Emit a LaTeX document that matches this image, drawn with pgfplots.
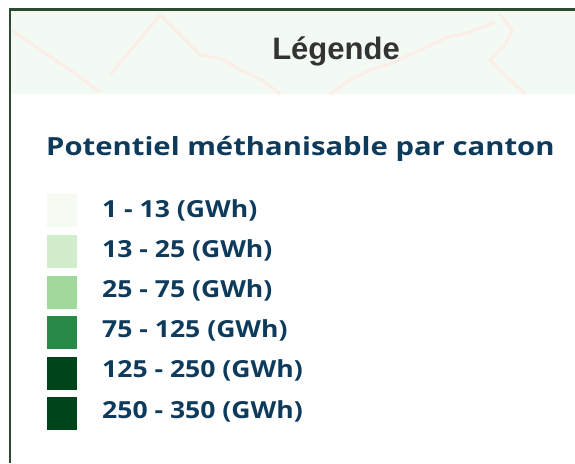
\documentclass[border=0pt]{standalone}
\usepackage{pgfplots}
\pgfplotsset{compat=1.18}
\usepackage{fontspec}
\setmainfont{Liberation Sans}
\newfontfamily\ostitle[FakeStretch=1.17]{Open Sans}
\newfontfamily\oslab[FakeStretch=1.13]{Open Sans}
\definecolor{frame}{HTML}{2E4A33}
\definecolor{band}{HTML}{F3FAF4}
\definecolor{mapline}{HTML}{FDEDE7}
\definecolor{titleblue}{HTML}{0E3B5C}
\definecolor{hdr}{HTML}{333333}
\definecolor{g1}{HTML}{F5FBF2}
\definecolor{g2}{HTML}{D2EDCB}
\definecolor{g3}{HTML}{A0D99B}
\definecolor{g4}{HTML}{288A47}
\definecolor{g5}{HTML}{00441B}
\definecolor{g6}{HTML}{00441B}
\tikzset{lab/.style={anchor=base west, inner sep=0pt, text=titleblue, font=\oslab\bfseries\fontsize{23.5pt}{28pt}\selectfont}}
\begin{document}
\begin{tikzpicture}
\path[use as bounding box] (0,0) rectangle (575pt,463pt);
\begin{axis}[
  width=575pt, height=463pt, scale only axis,
  xmin=0, xmax=575, ymin=0, ymax=463, y dir=reverse,
  hide axis, clip=true,
]
% header band
\addplot[fill=band, draw=none] coordinates {(11,11) (575,11) (575,94) (11,94)} -- cycle;
% faint map lines
\addplot[mapline, line width=3pt, no marks] coordinates {(12,30) (40,50) (70,70) (100,92)};
\addplot[mapline, line width=3pt, no marks] coordinates {(110,75) (135,45) (160,15) (175,30) (200,55) (225,60) (240,70) (262,80) (280,94)};
\addplot[mapline, line width=3pt, no marks] coordinates {(330,94) (350,80) (370,70) (395,62) (420,50) (445,38) (470,32) (495,22)};
\addplot[mapline, line width=3pt, no marks] coordinates {(500,14) (512,30) (505,45) (490,60) (505,75) (525,94)};
% frame
\addplot[frame, line width=2.6pt, no marks] coordinates {(10,463) (10,9.7) (575,9.7)};
% legend squares
\addplot[fill=g1, draw=none] coordinates {(47,194) (77,194) (77,227) (47,227)} -- cycle;
\addplot[fill=g2, draw=none] coordinates {(47,235) (77,235) (77,268) (47,268)} -- cycle;
\addplot[fill=g3, draw=none] coordinates {(47,276) (77,276) (77,309) (47,309)} -- cycle;
\addplot[fill=g4, draw=none] coordinates {(47,316) (77,316) (77,349) (47,349)} -- cycle;
\addplot[fill=g5, draw=none] coordinates {(47,357) (77,357) (77,390) (47,390)} -- cycle;
\addplot[fill=g6, draw=none] coordinates {(47,397) (77,397) (77,430) (47,430)} -- cycle;
\node[anchor=base, text=hdr, font=\bfseries\fontsize{31pt}{36pt}\selectfont] at (axis cs:336,59) {Légende};
\node[anchor=base west, inner sep=0pt, text=titleblue, font=\ostitle\bfseries\fontsize{25pt}{30pt}\selectfont] at (axis cs:46,155) {Potentiel méthanisable par canton};
\node[lab] at (axis cs:102,217) {1 - 13 (GWh)};
\node[lab] at (axis cs:102,257.2) {13 - 25 (GWh)};
\node[lab] at (axis cs:102,297.4) {25 - 75 (GWh)};
\node[lab] at (axis cs:102,337.6) {75 - 125 (GWh)};
\node[lab] at (axis cs:102,377.8) {125 - 250 (GWh)};
\node[lab] at (axis cs:102,418) {250 - 350 (GWh)};
\end{axis}
\end{tikzpicture}
\end{document}
